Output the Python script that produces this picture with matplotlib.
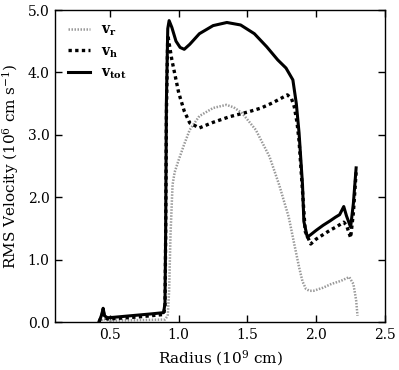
import matplotlib
matplotlib.use("Agg")
import matplotlib.pyplot as plt
import numpy as np

plt.rcParams['font.family'] = ['DejaVu Serif']
plt.rcParams['mathtext.fontset'] = 'dejavuserif'

# radius (1e9 cm) and velocities (1e6 cm/s)
r_tot = [0.42, 0.44, 0.45, 0.46, 0.48, 0.50, 0.60, 0.70, 0.80, 0.89, 0.90, 0.905, 0.91, 0.92, 0.93, 0.95,
         0.98, 1.01, 1.04, 1.08, 1.15, 1.25, 1.35, 1.45, 1.55, 1.64, 1.72, 1.78, 1.83, 1.855, 1.875, 1.90,
         1.91, 1.935, 1.96, 2.00, 2.05, 2.10, 2.14, 2.17, 2.20, 2.22, 2.25, 2.27, 2.29]
v_tot = [0.00, 0.12, 0.22, 0.10, 0.07, 0.07, 0.09, 0.11, 0.13, 0.15, 0.30, 1.50, 3.50, 4.70, 4.83, 4.72,
         4.50, 4.40, 4.37, 4.45, 4.62, 4.75, 4.80, 4.76, 4.62, 4.41, 4.20, 4.07, 3.88, 3.50, 3.03, 2.20,
         1.61, 1.36, 1.40, 1.47, 1.55, 1.62, 1.68, 1.72, 1.85, 1.70, 1.52, 1.90, 2.47]

r_h = [0.42, 0.44, 0.45, 0.46, 0.48, 0.50, 0.70, 0.89, 0.90, 0.905, 0.91, 0.92, 0.95, 1.00, 1.04, 1.08,
       1.15, 1.25, 1.37, 1.51, 1.60, 1.68, 1.74, 1.79, 1.82, 1.84, 1.86, 1.875, 1.90, 1.92, 1.96, 2.00,
       2.05, 2.10, 2.15, 2.20, 2.22, 2.25, 2.27, 2.29]
v_h = [0.00, 0.10, 0.18, 0.08, 0.05, 0.05, 0.08, 0.12, 0.25, 1.40, 3.30, 4.60, 4.20, 3.67, 3.38, 3.19,
       3.11, 3.20, 3.29, 3.37, 3.43, 3.51, 3.58, 3.64, 3.58, 3.45, 3.20, 2.90, 2.10, 1.45, 1.25, 1.33,
       1.40, 1.47, 1.53, 1.60, 1.55, 1.35, 1.75, 2.40]

r_r = [0.42, 0.45, 0.50, 0.70, 0.90, 0.92, 0.93, 0.94, 0.955, 0.97, 1.00, 1.04, 1.08, 1.15, 1.25, 1.346,
       1.40, 1.46, 1.56, 1.66, 1.73, 1.80, 1.84, 1.875, 1.90, 1.925, 1.95, 1.98, 2.05, 2.11, 2.18, 2.24,
       2.27, 2.29, 2.30]
v_r = [0.00, 0.05, 0.02, 0.03, 0.04, 0.10, 0.50, 1.40, 2.20, 2.40, 2.60, 2.85, 3.08, 3.30, 3.43, 3.48,
       3.44, 3.35, 3.08, 2.65, 2.20, 1.68, 1.25, 0.88, 0.65, 0.53, 0.50, 0.50, 0.55, 0.61, 0.66, 0.72,
       0.61, 0.35, 0.10]

xticks = [0.5, 1.0, 1.5, 2.0, 2.5]
yticks = [0.0, 1.0, 2.0, 3.0, 4.0, 5.0]

fig = plt.figure(figsize=(3.99, 3.70), dpi=100)
ax = fig.add_axes([55/399, 48/370, 330/399, 312/370])

ax.plot(r_r, v_r, color='#999999', lw=1.8, ls=(0, (0.6, 0.6)), label=r'$\mathbf{v_r}$')
ax.plot(r_h, v_h, color='black', lw=2.4, ls=(0, (1.0, 1.0)), label=r'$\mathbf{v_h}$')
ax.plot(r_tot, v_tot, color='black', lw=2.2, label=r'$\mathbf{v_{tot}}$')

ax.set_xlim(0.1, 2.5)
ax.set_ylim(0.0, 5.0)
ax.set_xticks(xticks)
ax.set_xticklabels([f"{t:.1f}" for t in xticks])
ax.set_yticks(yticks)
ax.set_yticklabels([f"{t:.1f}" for t in yticks])
ax.tick_params(direction='in', top=True, right=True, length=5, width=1, labelsize=10, pad=4)
for s in ax.spines.values():
    s.set_linewidth(1.0)

ax.set_xlabel(r'Radius (10$^9$ cm)', fontsize=11, labelpad=5)
ax.set_ylabel(r'RMS Velocity (10$^6$ cm s$^{-1}$)', fontsize=11, labelpad=5)

ax.legend(loc='upper left', frameon=False, fontsize=10, handlelength=1.6, handletextpad=0.8,
          labelspacing=0.45, borderaxespad=0.5)

fig.savefig('out.png', dpi=100)
